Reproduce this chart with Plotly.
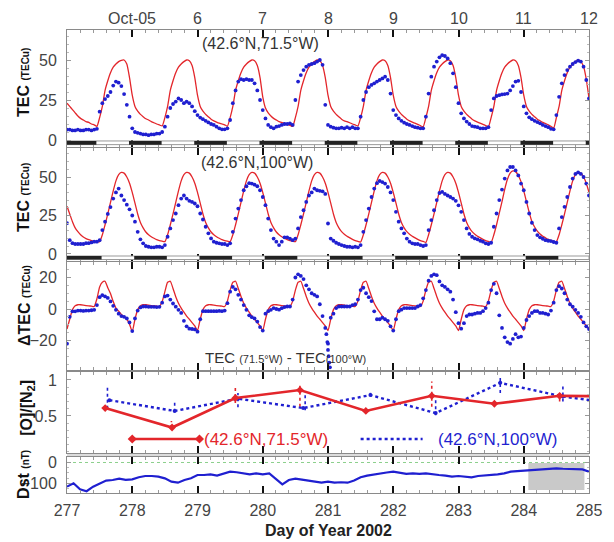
import plotly.graph_objects as go

# ---------------- data ----------------
T0 = 277.0          # first hourly sample, day of year 2002
DT = 1.0 / 24.0     # hourly

# Panel 1: TEC at (42.6N, 71.5W)
tec71_model = [
    23, 21, 19, 17, 15, 13.5, 12.5, 11.5, 11, 10, 9.5, 8.5, 14, 21, 31, 37, 42, 45.5, 47.5, 49, 49.8, 50, 47.5, 39,
    28, 21, 18, 16, 14.6, 13.3, 12.5, 11.5, 10.8, 10, 9.4, 8.8, 14, 21, 31, 37, 42, 45.5, 47.5, 49, 50, 49.5, 46.5, 39,
    28, 21, 18, 16, 14.5, 13, 12, 11.2, 10.5, 10, 9.5, 8.6, 14, 21, 31, 37, 42, 45.5, 47.5, 49, 50, 49.5, 46.5, 39,
    27, 20, 17, 15, 13.5, 12.5, 11.5, 11, 10.5, 9.8, 9.2, 8.5, 14, 21, 31, 37, 42, 45.5, 47.5, 49, 50, 49.5, 46.5, 39,
    28, 21, 18, 16, 14.5, 13, 12, 11.5, 10.8, 10, 9.4, 8.8, 14, 21, 31, 37, 42, 45.5, 47.5, 49, 50, 49.5, 46.5, 39,
    28, 21, 18, 16, 14.5, 13, 12, 11.2, 10.5, 9.8, 9, 8.2, 14, 21, 31, 37, 42, 45.5, 47.5, 49, 50, 49.5, 46.5, 39,
    28, 21, 18, 16, 14.5, 13, 12, 11.2, 10.5, 9.8, 9, 8.3, 14, 21, 31, 37, 42, 45.5, 47.5, 49, 50, 49.5, 46.5, 39,
    28, 21, 18, 16, 14.5, 13, 12, 11, 10.3, 9.5, 8.5, 7.5, 14, 21, 31, 37, 42, 45.5, 47.5, 49, 50, 49, 46, 38,
    26]
tec71_obs = [
    6.5, 6.5, 6, 6, 6.5, 6, 6, 6.5, 6.5, 6, 6.5, 7, 17.7, 23, 25.6, 27.5, 30, 34, 36.5, 35.8, 33.7, 28.7, 22, 14.6,
    7.3, 5, 4.5, 4, 3.5, 3.5, 3, 3.5, 3.5, 4, 4, 5, 8.3, 14.6, 20, 22.5, 24, 26, 25, 23, 24, 23, 21, 18,
    15.6, 14, 13, 12, 11, 10, 9.4, 8.3, 7.3, 6.7, 6.7, 7.3, 12.5, 23, 31, 36.5, 38, 37.5, 38, 37.5, 37.5, 35.4, 31, 25,
    18.7, 13.5, 9.4, 8, 7.3, 8.3, 8.7, 9.4, 10, 10, 10.4, 9.4, 25, 36.5, 40.6, 43.7, 45.8, 47, 47.5, 48, 49, 50, 47, 22,
    9.4, 8.3, 7.7, 7.3, 7.3, 7.7, 7.3, 8, 7.3, 8, 7.3, 7.3, 14.6, 25, 30, 33, 34.4, 35.4, 36.5, 37.5, 38.5, 39.6, 37.5, 29,
    18.7, 15.6, 13.5, 12, 10.8, 10, 9.4, 8.7, 8, 7.7, 7.3, 7.3, 14.6, 29, 39.6, 45.8, 49, 51.7, 53, 52.5, 51, 48, 41.7, 33,
    23, 16.7, 13.5, 11.5, 10, 8.7, 8.3, 8, 7.3, 7.3, 7.3, 8, 18.7, 26, 27.5, 28, 28.5, 28.7, 29, 31, 33.7, 36.5, 37, 30,
    21, 16.7, 14.2, 13, 12, 11.2, 10.4, 9.4, 8.7, 8, 7, 6.7, 15.6, 27, 35.4, 40.6, 43.7, 45.8, 47.5, 48.7, 49.6, 49, 45.8, 37.5,
    26]

# Panel 2: TEC at (42.6N, 100W)
tec100_model = [
    31, 26, 21, 17, 14.5, 12.5, 11, 10, 9.3, 8.7, 8.3, 8, 8, 12.5, 19, 26, 33.5, 41, 47.5, 51.5, 53, 52.5, 50, 46,
    40, 33, 26, 20.5, 17, 14.3, 12.5, 11.2, 10.2, 9.3, 8.7, 8.3, 8, 12.5, 19, 26, 33.5, 41, 47.5, 51.5, 53, 52.5, 50, 46,
    40, 33, 26, 20.5, 17, 14.3, 12.5, 11.2, 10.2, 9.3, 8.7, 8.3, 8, 12.5, 19, 26, 33.5, 41, 47.5, 51.5, 53, 52.5, 50, 46,
    40, 33, 26, 20.5, 17, 14.3, 12.5, 11.2, 10.2, 9.3, 8.7, 8.3, 8, 12.5, 19, 26, 33.5, 41, 47.5, 51.5, 53, 52.5, 50, 46,
    40, 33, 26, 20.5, 17, 14.5, 12.8, 11.5, 10.5, 9.5, 8.7, 8.2, 7.8, 12.5, 19, 26, 33.5, 41, 47.5, 51.5, 53, 52.5, 50, 46,
    40, 33, 26, 20.5, 17, 14.5, 12.8, 11.5, 10.5, 9.5, 8.7, 8.2, 7.5, 12.5, 19, 26, 33.5, 41, 47.5, 51.5, 53, 52.5, 50, 46,
    40, 33, 26, 20.5, 17, 14.5, 12.8, 11.5, 10.5, 9.5, 8.7, 8.2, 7.5, 12.5, 19, 26.5, 34, 42, 48.5, 52.5, 54, 53.5, 51, 47,
    41, 34, 27, 21, 17.5, 14.8, 13, 11.5, 10.5, 9.5, 8.8, 8.3, 8, 12.5, 19, 26, 33.5, 41, 47.5, 51.5, 53, 52.5, 50, 46,
    40]
tec100_obs = [
    20, 9, 7, 6.5, 6.5, 6.5, 6.5, 7, 7, 7.5, 8, 8, 9, 15.5, 21, 26, 30.5, 36, 40, 42.5, 38, 35, 32, 29,
    25, 21, 14.4, 9.5, 6.9, 5.2, 4.7, 4.3, 4.3, 4.7, 4.7, 4.3, 5.8, 11.2, 16.6, 22, 26.3, 31.7, 36, 38, 36, 34.5, 33.8, 32.8,
    31, 26.3, 22.4, 17.7, 13.4, 10.1, 8, 7.3, 6.9, 6.5, 6.5, 5.8, 6.9, 14.4, 23, 29.5, 35, 41.4, 44, 46, 45.7, 45, 44, 41.4,
    37, 31.7, 23, 15.5, 10, 8, 5.8, 8, 10.8, 10.8, 10, 9, 10, 16.6, 24, 28.4, 33.8, 38, 40, 42.5, 41.4, 41, 40.7, 39,
    19.8, 10, 8.6, 7.3, 6.5, 5.8, 5.2, 4.7, 4.7, 4.3, 4.7, 4.3, 5.8, 14.4, 22, 29.5, 37, 42.5, 46, 47.4, 46.7, 45.7, 43.5, 40,
    35, 27.4, 21, 16.6, 13.4, 10, 8, 6.9, 6.5, 6.5, 5.8, 5.2, 5.8, 15.5, 22, 28.4, 35, 39.6, 40.3, 39, 38, 37, 36, 34.5,
    31.6, 27.4, 22, 16.6, 13, 11.2, 10.1, 9.5, 8.6, 8, 6.9, 6.5, 7.3, 17.7, 26.3, 35, 41.8, 49, 54.3, 56.5, 56.5, 54.3, 51, 45.7,
    41.4, 33.8, 26.3, 20.3, 15.5, 12.3, 10.8, 9.9, 9, 8.6, 8.4, 7.8, 7.3, 16.6, 24, 30.6, 37, 43.5, 49, 52, 53, 52, 50, 45.7,
    38]

# Panel 3: TEC(71.5W) - TEC(100W)
dtec_model = [
    -12.7, -6.5, -0.4, 2, 2.7, 2.7, 2.5, 2.2, 2, 1.8, 1.6, 6.5, 14, 17, 17.6, 13.5, 9.8, 4.7, 0.6, -1.4, -3.5, -4.9, -6.5, -9.6,
    -14.4, -6.5, -0.4, 2, 2.7, 2.7, 2.5, 2.2, 2, 1.8, 1.6, 4.7, 11, 17, 17.6, 13, 7.8, 3.7, 0.6, -2, -4.5, -6.5, -8.6, -10.7,
    -13.7, -6.5, -0.4, 2, 2.7, 2.7, 2.5, 2.2, 2, 1.8, 1.6, 5, 12, 17, 17.6, 13, 8, 3.7, 0.6, -2, -4.5, -6.5, -8.6, -10.7,
    -13.7, -6.5, -0.4, 2, 2.7, 2.7, 2.5, 2.2, 2, 1.8, 1.6, 5, 12, 17, 17.6, 13, 8, 3.7, 0.6, -2, -4.5, -6.5, -8.6, -10.7,
    -13.7, -6.5, -0.4, 2, 2.7, 2.7, 2.5, 2.2, 2, 1.8, 1.6, 5, 12, 17, 17.6, 13, 8, 3.7, 0.6, -2, -4.5, -6.5, -8.6, -10.7,
    -13.7, -6.5, -0.4, 2, 2.7, 2.7, 2.5, 2.2, 2, 1.8, 1.6, 5, 12, 17, 17.6, 13, 8, 3.7, 0.6, -2, -4.5, -6.5, -8.6, -10.7,
    -13.7, -6.5, -0.4, 2, 2.7, 2.7, 2.5, 2.2, 2, 1.8, 1.6, 5, 12, 17, 17.6, 13, 8, 3.7, 0.6, -2, -4.5, -6.5, -8.6, -10.7,
    -13.7, -6.5, -0.4, 2, 2.7, 2.7, 2.5, 2.2, 2, 1.8, 1.6, 5, 12, 17, 17.6, 13, 8, 3.7, 0.6, -2, -4.5, -6.5, -8.6, -10.7,
    -12.7]
dtec_obs = [
    -22, -5, -1.5, -1.5, -1, -1, -1.2, -1, -1, -0.8, -0.5, 2.5, 7.5, 8.8, 8, 7, 4.8, 2, -0.5, -3, -4.5, -5, -6, -8.5,
    -14, -6, -1, 1, 1.6, 1.6, 1.4, 1.4, 1.4, 1.2, 1.4, 4, 8, 8.5, 6, 3.5, 1.5, -0.5, -2.5, -7.5, -11, -12.5, -12.7, -13,
    -14.4, -6.5, -1.4, -1.4, -1.4, -1.4, -1.4, -1.4, -1.2, -1.4, -1, 3.7, 11, 14, 12.5, 9, 6, 2.5, -0.5, -4, -5.2, -6, -8, -11.5,
    -13.7, -3, -1.4, -0.5, 0.6, 0, -0.4, 0.5, 1.2, 1.6, 1.6, 6, 20, 22, 21, 19, 15, 12.5, 10, 9, 8, 3, -4.5, -12,
    -22, -5.5, -3, 0.6, 1.6, 1.6, 1.6, 1.6, 1.6, 2.5, 3, 6, 12, 13.5, 10, 7.5, 5, -1.5, -6.5, -6.5, -5.5, -6.5, -7.5, -11,
    -13.7, -6.5, -1.4, -0.4, 0.6, 0.6, 0.6, 0.6, 0.6, 1.6, 2.5, 6.8, 12, 18, 21, 22, 21.5, 17.5, 15, 14, 12.5, 11, 6, -2,
    -9, -12.5, -9, -4.5, -3.5, -3.5, -3, -2.5, -2.5, -1.4, 0.6, 4, 12, 16, 10, -4, -12, -18, -21, -22, -19, -16, -18, -17.5,
    -12, -7, -4.5, -2.5, -1.4, -1.4, -2.5, -2.5, -3, -3.5, -1, 4, 12, 14.5, 13, 10, 6, 3, 1.5, -0.5, -2.5, -5, -8.5, -11,
    -12.7]
plunge_days = [280.975, 280.99, 281.0, 281.01, 281.02, 281.03]
plunge_vals = [-16, -21, -26, -30, -34, -37]

# Panel 4: [O]/[N2]
on71_days = [277.585, 278.61, 279.58, 280.57, 281.58, 282.59, 283.55, 284.55, 285.55]
on71_vals = [0.61, 0.34, 0.75, 0.86, 0.57, 0.78, 0.67, 0.78, 0.77]
on100_days = [277.65, 278.65, 279.62, 280.62, 281.65, 282.65, 283.64, 284.6, 285.6]
on100_vals = [0.72, 0.57, 0.74, 0.61, 0.79, 0.54, 0.96, 0.77, 0.65]
sp71_days = [278.6, 279.58, 280.57, 282.59, 284.55]
sp71_lo = [0.33, 0.68, 0.63, 0.63, 0.70]
sp71_hi = [0.43, 0.93, 0.93, 0.98, 0.82]
sp100_days = [277.62, 278.65, 279.62, 280.65, 281.65, 282.65, 283.64, 284.6]
sp100_lo = [0.60, 0.56, 0.62, 0.58, 0.78, 0.51, 0.82, 0.70]
sp100_hi = [0.90, 0.70, 0.82, 0.82, 0.86, 0.72, 1.07, 0.91]
legend71_days = [278.0, 279.03]
legend100_days = [281.5, 282.45]
legend_level = 0.18

# Panel 5: Dst (every 0.1 day)
DST_DT = 0.1
dst = [-116, -100, -129, -138, -116, -100, -87, -84, -78, -83,
       -81, -71, -65, -65, -68, -76, -92, -97, -84, -76,
       -60, -60, -57, -63, -52, -44, -47, -52, -57, -52,
       -57, -52, -78, -105, -84, -78, -82, -87, -92, -97,
       -92, -97, -95, -97, -87, -71, -63, -57, -52, -48,
       -44, -49, -55, -52, -55, -52, -57, -60, -63, -68,
       -65, -68, -71, -65, -63, -60, -57, -52, -44, -41,
       -39, -36, -36, -33, -30, -28, -30, -30, -31, -33, -44]
shade_days = [284.07, 284.93]
shade_dst = [-3, -132]

# night (dark) intervals, UT day
night71_start = [277.0, 277.95, 278.95, 279.95, 280.95, 281.95, 282.95, 283.95, 284.95]
night71_end = [277.45, 278.45, 279.45, 280.45, 281.45, 282.45, 283.45, 284.45, 285.0]
night100_start = [277.0, 278.03, 279.03, 280.03, 281.03, 282.03, 283.03, 284.03]
night100_end = [277.53, 278.53, 279.53, 280.53, 281.53, 282.53, 283.53, 284.53]

top_tick_days = [278, 279, 280, 281, 282, 283, 284, 285]
top_tick_text = ["Oct-05", "6", "7", "8", "9", "10", "11", "12"]

# ---------------- styling / layout ----------------
W, H = 614, 542
MT, MB, ML, MR = 30, 49, 67, 14
RED = "#e3262b"
BLUE = "#1f1fd0"
FONT = "Liberation Sans, Arial, Helvetica, sans-serif"
AX = "#8a8a8a"


def py(p):
    return (H - MB - p) / (H - MT - MB)


def pxx(p):
    return (p - ML) / (W - ML - MR)


PANELS = [
    (30, 146.7, [-4.19, 68.75], [0, 25, 50], None, 5),
    (148, 261, [-4.55, 68.83], [0, 25, 50], None, 5),
    (262, 370, [-38.73, 29.84], [-20, 0, 20], None, 5),
    (372, 453, [-0.014, 1.111], [0.5, 1], ["0.5", "1"], 0.1),
    (457, 493, [-146.6, 26.4], [-100, 0], None, 25),
]

fig = go.Figure()
marker_obs = dict(color=BLUE, size=3.8)

fig.add_trace(go.Scatter(x0=T0, dx=DT, y=tec71_model, mode="lines", line=dict(color=RED, width=1.3, shape="spline", smoothing=0.5), xaxis="x", yaxis="y"))
fig.add_trace(go.Scatter(x0=T0, dx=DT, y=tec71_obs, mode="markers", marker=marker_obs, xaxis="x", yaxis="y"))
fig.add_trace(go.Scatter(x0=T0, dx=DT, y=tec100_model, mode="lines", line=dict(color=RED, width=1.3, shape="spline", smoothing=0.5), xaxis="x2", yaxis="y2"))
fig.add_trace(go.Scatter(x0=T0, dx=DT, y=tec100_obs, mode="markers", marker=marker_obs, xaxis="x2", yaxis="y2"))
fig.add_trace(go.Scatter(x0=T0, dx=DT, y=dtec_model, mode="lines", line=dict(color=RED, width=1.3, shape="spline", smoothing=0.5), xaxis="x3", yaxis="y3"))
fig.add_trace(go.Scatter(x0=T0, dx=DT, y=dtec_obs, mode="markers", marker=marker_obs, xaxis="x3", yaxis="y3"))
fig.add_trace(go.Scatter(x=plunge_days, y=plunge_vals, mode="markers", marker=marker_obs, xaxis="x3", yaxis="y3"))


def segs(days, lo, hi):
    xs, ys = [], []
    for d, a, b in zip(days, lo, hi):
        xs += [d, d, None]
        ys += [a, b, None]
    return xs, ys


sx, sy = segs(sp71_days, sp71_lo, sp71_hi)
fig.add_trace(go.Scatter(x=sx, y=sy, mode="lines", line=dict(color=RED, width=1.6, dash="dot"), xaxis="x4", yaxis="y4"))
sx, sy = segs(sp100_days, sp100_lo, sp100_hi)
fig.add_trace(go.Scatter(x=sx, y=sy, mode="lines", line=dict(color=BLUE, width=1.6, dash="dot"), xaxis="x4", yaxis="y4"))
fig.add_trace(go.Scatter(x=on100_days, y=on100_vals, mode="lines+markers", line=dict(color=BLUE, width=2.4, dash="dot"),
                         marker=dict(color=BLUE, size=4), xaxis="x4", yaxis="y4"))
fig.add_trace(go.Scatter(x=on71_days, y=on71_vals, mode="lines+markers", line=dict(color=RED, width=2.6),
                         marker=dict(color=RED, size=6, symbol="diamond"), xaxis="x4", yaxis="y4"))
fig.add_trace(go.Scatter(x=legend71_days, y=[legend_level] * 2, mode="lines+markers", line=dict(color=RED, width=2.6),
                         marker=dict(color=RED, size=7, symbol="diamond"), xaxis="x4", yaxis="y4"))
fig.add_trace(go.Scatter(x=legend100_days, y=[legend_level] * 2, mode="lines", line=dict(color=BLUE, width=2.4, dash="dot"),
                         xaxis="x4", yaxis="y4"))

fig.add_trace(go.Scatter(x0=T0, dx=DST_DT, y=dst, mode="lines", line=dict(color=BLUE, width=2.2), xaxis="x5", yaxis="y5"))

layout = dict(
    width=W, height=H, margin=dict(l=ML, r=MR, t=MT, b=MB),
    paper_bgcolor="white", plot_bgcolor="white", showlegend=False,
    font=dict(family=FONT, size=15, color="#444"),
)
for i, (top, bot, rng, tv, tt, ymin) in enumerate(PANELS, 1):
    sfx = "" if i == 1 else str(i)
    layout["xaxis" + sfx] = dict(
        domain=[0, 1], range=[277, 285], anchor="y" + sfx, showgrid=False, zeroline=False,
        showline=True, linecolor=AX, linewidth=1, mirror="ticks",
        ticks="inside", ticklen=7, tickwidth=2, tickcolor="#111", tick0=277, dtick=1,
        minor=dict(ticks="inside", dtick=0.2, ticklen=3, tickcolor="#999", tickwidth=1),
        showticklabels=(i == 5), ticklabelstandoff=3,
        tickfont=dict(size=16, color="#444"),
    )
    ya = dict(
        domain=[py(bot), py(top)], range=rng, anchor="x" + sfx, showgrid=False, zeroline=False,
        showline=True, linecolor=AX, linewidth=1, mirror="ticks",
        ticks="inside", ticklen=4, tickcolor="#999", tickvals=tv,
        minor=dict(ticks="inside", dtick=ymin, ticklen=2, tickcolor="#bbb"),
        tickfont=dict(size=16, color="#444"), ticklabelstandoff=6,
    )
    if tt:
        ya["ticktext"] = tt
    layout["yaxis" + sfx] = ya

shapes = []
# day/night strips
for xr, yr, starts, ends in [("x", "y", night71_start, night71_end), ("x2", "y2", night100_start, night100_end)]:
    lo, hi = (-0.6, -2.9) if xr == "x" else (-1.3, -3.6)
    shapes.append(dict(type="rect", xref=xr, yref=yr, x0=277, x1=285, y0=lo, y1=hi,
                       fillcolor="white", line=dict(color="#999", width=1), layer="above"))
    for a, b in zip(starts, ends):
        shapes.append(dict(type="rect", xref=xr, yref=yr, x0=a, x1=b, y0=lo, y1=hi,
                           fillcolor="#222", line=dict(width=0), layer="above"))
# gray band between panels 4 and 5
shapes.append(dict(type="rect", xref="paper", yref="paper", x0=0, x1=1, y0=py(457), y1=py(453),
                   fillcolor="#dcdcdc", line=dict(width=0), layer="below"))
# Dst shade and zero line
shapes.append(dict(type="rect", xref="x5", yref="y5", x0=shade_days[0], x1=shade_days[1], y0=shade_dst[0], y1=shade_dst[1],
                   fillcolor="#c9c9c9", line=dict(width=0), layer="below"))
shapes.append(dict(type="line", xref="x5", yref="y5", x0=277, x1=285, y0=0, y1=0,
                   line=dict(color="#8cd08c", width=1, dash="dot"), layer="below"))
layout["shapes"] = shapes

ann = []
small = "<span style='font-size:10px'>%s</span>"
ylabels = [("<b>TEC " + small % "(TECu)" + "</b>", 82, 22),
           ("<b>TEC " + small % "(TECu)" + "</b>", 197, 22),
           ("<b>ΔTEC " + small % "(TECu)" + "</b>", 305, 23),
           ("<b>[O]/[N<sub>2</sub>]</b>", 408, 26),
           ("<b>Dst " + small % "(nT)" + "</b>", 474, 22)]
for txt, ypx, xpx in ylabels:
    ann.append(dict(text=txt, xref="paper", yref="paper", x=pxx(xpx), y=py(ypx), textangle=-90,
                    showarrow=False, xanchor="center", yanchor="middle", font=dict(size=16, color="#111")))
for d, t in zip(top_tick_days, top_tick_text):
    ann.append(dict(text=t, xref="x", yref="paper", x=d, y=py(18), showarrow=False,
                    xanchor="center", yanchor="middle", font=dict(size=16, color="#444")))
ann.append(dict(text="(42.6°N,71.5°W)", xref="x", yref="y", x=279.97, y=60.6, showarrow=False,
                font=dict(size=16, color="#333")))
ann.append(dict(text="(42.6°N,100°W)", xref="x2", yref="y2", x=279.91, y=59.7, showarrow=False,
                font=dict(size=16, color="#333")))
small11 = "<span style='font-size:11px'>%s</span>"
ann.append(dict(text="TEC " + small11 % "(71.5°W)" + " - TEC" + small11 % "(100°W)", xref="x3", yref="y3",
                x=280.35, y=-30.5, showarrow=False, font=dict(size=15, color="#333")))
ann.append(dict(text="(42.6°N,71.5°W)", xref="x4", yref="y4", x=279.07, y=legend_level, xanchor="left",
                showarrow=False, font=dict(size=17, color=RED)))
ann.append(dict(text="(42.6°N,100°W)", xref="x4", yref="y4", x=282.65, y=legend_level, xanchor="left",
                showarrow=False, font=dict(size=17, color=BLUE)))
ann.append(dict(text="<b>Day of Year 2002</b>", xref="paper", yref="paper", x=0.5, y=py(530), showarrow=False,
                xanchor="center", yanchor="middle", font=dict(size=16, color="#222")))
layout["annotations"] = ann

fig.update_layout(**layout)
fig.write_html("out.html", config={"displayModeBar": False},
               post_script="document.body.style.margin='0px';document.body.style.overflow='hidden';")
